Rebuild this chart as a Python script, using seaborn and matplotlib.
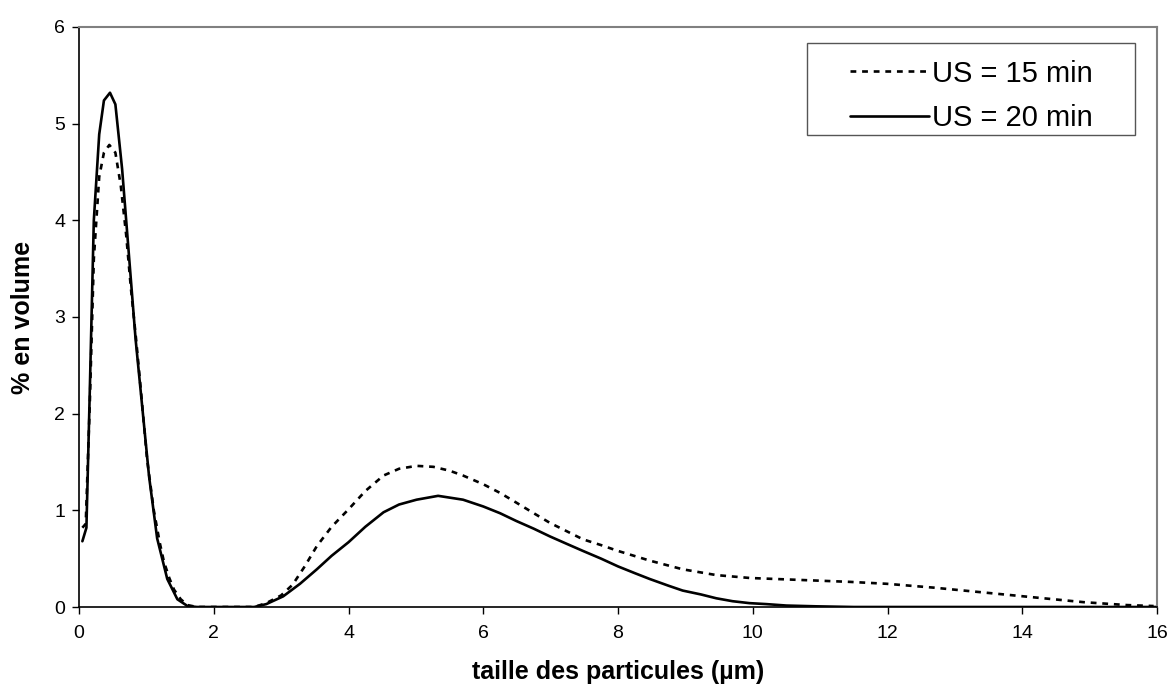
import numpy as np
import pandas as pd
import matplotlib
matplotlib.use("Agg")
import matplotlib.pyplot as plt
from matplotlib.patches import Rectangle
import seaborn as sns

# Data
x15 = [0.05, 0.10, 0.16, 0.22, 0.30, 0.37, 0.45, 0.54, 0.62, 0.70, 0.77, 0.85, 0.92, 1.01, 1.11, 1.20, 1.26, 1.34, 1.41, 1.51, 1.61, 1.75, 2.0, 2.4, 2.6,
       2.78, 3.0, 3.17, 3.35, 3.53, 3.75, 4.0, 4.25, 4.52, 4.75, 5.01, 5.26, 5.5, 5.70, 6.0, 6.25, 6.49, 6.75, 6.99, 7.25, 7.48, 7.75, 8.0,
       8.47, 8.96, 9.46, 9.96, 10.7, 11.44, 11.99, 12.69, 13.43, 14.17, 14.91, 15.55, 15.95]
y15 = [0.82, 0.86, 2.10, 3.60, 4.45, 4.70, 4.78, 4.70, 4.36, 3.85, 3.30, 2.75, 2.23, 1.53, 1.00, 0.66, 0.47, 0.30, 0.18, 0.08, 0.02, 0.0, 0.0, 0.0, 0.0,
       0.04, 0.12, 0.23, 0.42, 0.63, 0.83, 1.01, 1.20, 1.36, 1.43, 1.46, 1.45, 1.41, 1.36, 1.27, 1.18, 1.08, 0.97, 0.87, 0.78, 0.70, 0.64, 0.58,
       0.48, 0.39, 0.33, 0.30, 0.28, 0.26, 0.24, 0.20, 0.15, 0.10, 0.05, 0.02, 0.01]

x20 = [0.05, 0.11, 0.16, 0.22, 0.30, 0.37, 0.46, 0.54, 0.64, 0.74, 0.84, 0.94, 1.04, 1.16, 1.31, 1.46, 1.61, 1.75, 2.0, 2.4, 2.6,
       2.78, 3.03, 3.28, 3.53, 3.75, 4.0, 4.25, 4.52, 4.75, 5.01, 5.33, 5.70, 6.0, 6.25, 6.49, 6.75, 6.99, 7.25, 7.48, 7.75, 8.0,
       8.25, 8.47, 8.75, 8.96, 9.23, 9.46, 9.70, 9.95, 10.2, 10.5, 10.94, 11.5, 12.5, 14.0, 16.0]
y20 = [0.68, 0.82, 2.23, 4.00, 4.89, 5.24, 5.32, 5.20, 4.53, 3.65, 2.77, 2.06, 1.35, 0.71, 0.29, 0.08, 0.01, 0.0, 0.0, 0.0, 0.0,
       0.03, 0.11, 0.24, 0.39, 0.53, 0.67, 0.83, 0.98, 1.06, 1.11, 1.15, 1.11, 1.04, 0.97, 0.89, 0.81, 0.73, 0.65, 0.58, 0.50, 0.42,
       0.35, 0.29, 0.22, 0.17, 0.13, 0.09, 0.06, 0.04, 0.03, 0.015, 0.007, 0.0, 0.0, 0.0, 0.0]

labels = ["US = 15 min", "US = 20 min"]

df15 = pd.DataFrame({"x": x15, "y": y15, "serie": labels[0]})
df20 = pd.DataFrame({"x": x20, "y": y20, "serie": labels[1]})

sns.set_style("white")
plt.rcParams['font.family'] = ['Liberation Sans', 'DejaVu Sans']
plt.rcParams['text.color'] = 'black'
plt.rcParams['axes.labelcolor'] = 'black'
plt.rcParams['xtick.color'] = 'black'
plt.rcParams['ytick.color'] = 'black'

fig = plt.figure(figsize=(11.72, 6.93), dpi=100)
ax = fig.add_axes([79/1172, 1 - 607/693, (1157-79)/1172, (607-27)/693])

sns.lineplot(data=df15, x="x", y="y", ax=ax, color="black", linewidth=1.9,
             linestyle=(0, (2.2, 2.2)), label=labels[0], sort=False)
sns.lineplot(data=df20, x="x", y="y", ax=ax, color="black", linewidth=1.9,
             label=labels[1], sort=False)

ax.set_xlim(0, 16)
ax.set_ylim(0, 6)
ax.set_xticks(np.arange(0, 17, 2))
ax.set_yticks(np.arange(0, 7, 1))
ax.tick_params(axis="both", direction="out", length=5, width=1, labelsize=14, colors="black",
               bottom=True, left=True)
ax.tick_params(axis="x", pad=8)
ax.tick_params(axis="y", pad=5)

for side in ["left", "bottom"]:
    ax.spines[side].set_color("black")
    ax.spines[side].set_linewidth(1.2)
for side in ["top", "right"]:
    ax.spines[side].set_visible(True)
    ax.spines[side].set_color("#808080")
    ax.spines[side].set_linewidth(1.5)

ax.set_xlabel("taille des particules (µm)", fontsize=18, fontweight="bold", labelpad=13)
ax.set_ylabel("% en volume", fontsize=18, fontweight="bold", labelpad=14)

# legend with a separate square frame (wide horizontal padding as in the reference)
x0, x1 = (807-79)/1078, (1135-79)/1078
y0, y1 = (607-135)/580, (607-43)/580
leg = ax.legend(loc="center", bbox_to_anchor=(0.828, (y0+y1)/2 - 0.012), fontsize=21,
                frameon=False, handlelength=2.7, handletextpad=0.12, labelspacing=0.58,
                borderpad=0, borderaxespad=0)
ax.add_patch(Rectangle((x0, y0), x1-x0, y1-y0, transform=ax.transAxes, fill=True,
                       facecolor="white", edgecolor="#555555", linewidth=1.0, zorder=4))
leg.set_zorder(5)

fig.savefig("out.png", dpi=100)
